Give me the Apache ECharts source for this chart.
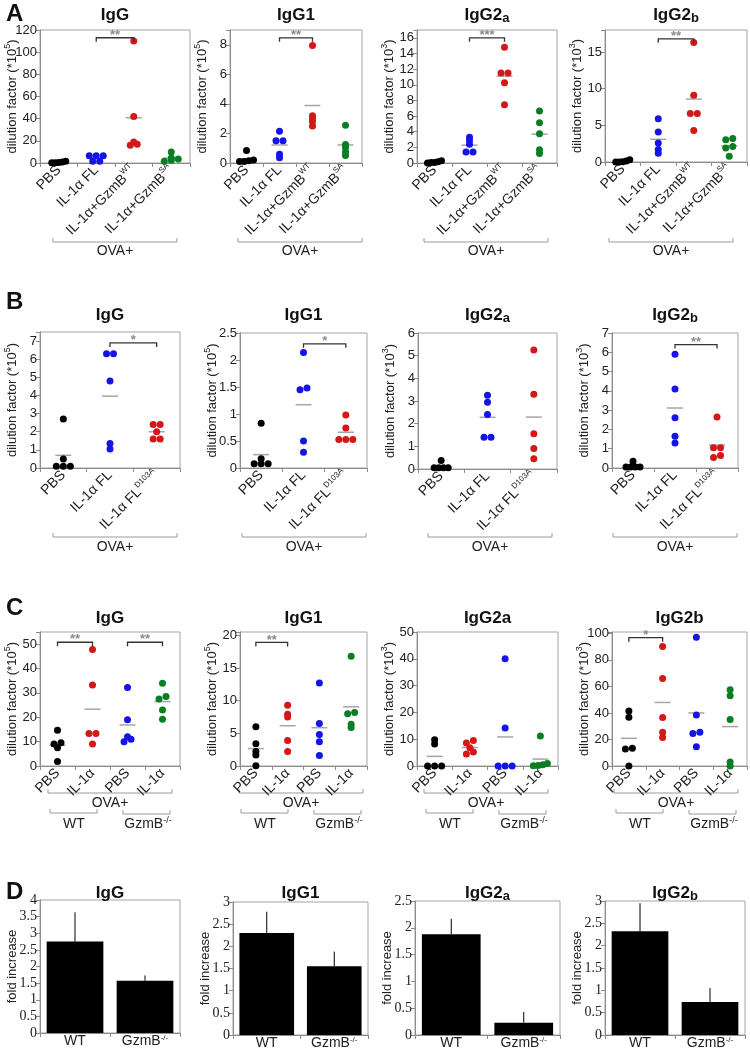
<!DOCTYPE html>
<html><head><meta charset="utf-8">
<script src="https://cdn.jsdelivr.net/npm/echarts@6/dist/echarts.min.js"></script>
<style>html,body{margin:0;padding:0;background:#fff}#c{width:750px;height:1049px}</style>
</head><body><div id="c"></div>
<script>
// ================= DATA =================
const titlesSub = ['IgG', 'IgG1', 'IgG2_a', 'IgG2_b'];
const titlesC = ['IgG', 'IgG1', 'IgG2a', 'IgG2b'];
const catsA = ['PBS', 'IL-1α FL', 'IL-1α+GzmB^WT', 'IL-1α+GzmB^SA'];
const catsB = ['PBS', 'IL-1α FL', 'IL-1α FL^D103A'];
const catsC = ['PBS', 'IL-1α', 'PBS', 'IL-1α'];
const catsD = ['WT', 'GzmB^-/-'];
const colorsA = ['#000000', '#1414e6', '#d41717', '#0b7d22'];
const colorsB = ['#000000', '#1414e6', '#d41717'];
const colorsC = ['#000000', '#d41717', '#1414e6', '#0b7d22'];

// Panel A (groups: PBS, IL-1α FL, IL-1α+GzmB WT, IL-1α+GzmB SA)
const A_IgG   = [[1.5, 1, 0.5, 0.3, 0.2], [6.5, 6.5, 6.5, 1.5, 1.5], [110, 42, 19, 17, 16], [10, 4.5, 3.5, 2.5, 1.5]];
const A_IgG1  = [[0.85, 0.2, 0.15, 0.1, 0.1], [2.15, 1.5, 1.5, 0.6, 0.35], [7.95, 3.2, 3.0, 2.8, 2.5], [2.55, 1.25, 1.05, 0.75, 0.5]];
const A_IgG2a = [[0.3, 0.15, 0.05, 0.05, 0], [3.3, 2.9, 2.4, 1.4, 1.4], [14.8, 11.5, 11.5, 10.25, 7.45], [6.64, 5.15, 3.74, 1.7, 1.2]];
const A_IgG2b = [[0.3, 0.15, 0.05, 0, 0], [5.9, 4.1, 2.6, 1.7, 1.2], [16.3, 9.1, 6.6, 6.6, 4.3], [3.2, 3.05, 2.1, 1.9, 0.8]];
// significance: [from group, to group, y value, label]
const sigA_IgG = [[1, 2, 113, '**']];
const sigA_IgG1 = [[1, 2, 8.47, '**']];
const sigA_IgG2a = [[1, 2, 16, '***']];
const sigA_IgG2b = [[1, 2, 16.8, '**']];

// Panel B (groups: PBS, IL-1α FL, IL-1α FL D103A)
const B_IgG   = [[2.7, 0.5, 0.1, 0.1, 0.1], [6.3, 6.3, 4.8, 1.35, 1.05], [2.4, 2.4, 2.0, 1.6, 1.6]];
const B_IgG1  = [[0.83, 0.17, 0.08, 0.08, 0.08], [2.14, 1.48, 1.45, 0.5, 0.29], [0.98, 0.74, 0.53, 0.53, 0.53]];
const B_IgG2a = [[0.38, 0.05, 0.05, 0.05, 0.05], [3.25, 2.95, 2.4, 1.4, 1.4], [5.25, 3.3, 1.55, 0.9, 0.45]];
const B_IgG2b = [[0.35, 0.05, 0.05, 0.05, 0.05], [5.9, 4.1, 2.6, 1.65, 1.3], [2.65, 1.05, 1.05, 0.65, 0.55]];
const sigB_IgG = [[1, 2, 6.9, '*']];
const sigB_IgG1 = [[1, 2, 2.3, '*']];
const sigB_IgG2b = [[1, 2, 6.4, '**']];

// Panel C (groups: WT PBS, WT IL-1α, GzmB-/- PBS, GzmB-/- IL-1α)
const C_IgG   = [[14.7, 9.5, 9.0, 7.5, 1.8], [47.8, 33.2, 13.3, 13.3, 9], [32.2, 19, 12, 11, 10], [34, 28.5, 27.5, 23, 19.2]];
const C_IgG1  = [[6, 3.4, 2.2, 1.7, 0.05], [9.3, 7.9, 7.5, 3.9, 2.2], [12.7, 6.5, 4.8, 3.7, 1.6], [16.8, 8.2, 8.0, 6.4, 5.9]];
const C_IgG2a = [[9.8, 8.2, 0, 0, 0], [9.5, 8.6, 6.8, 5.2, 4.5], [40, 14.2, 0, 0, 0], [11.2, 0.9, 0.5, 0.2, 0.1]];
const C_IgG2b = [[41.5, 36.8, 13.3, 12.8, 0], [90, 66, 36.5, 25.5, 21.5], [97, 38.5, 25.5, 24.5, 14.5], [57.5, 53, 35, 3, 0]];
const sigC_IgG = [[0, 1, 50.8, '**'], [2, 3, 50.8, '**']];
const sigC_IgG1 = [[0, 1, 18.9, '**']];
const sigC_IgG2b = [[0, 1, 96.7, '*']];

// Panel D (fold increase, WT vs GzmB-/-)
const D_IgG = [2.75, 1.57],   D_IgG_err = [3.63, 1.73];
const D_IgG1 = [2.3, 1.55],   D_IgG1_err = [2.78, 1.88];
const D_IgG2a = [1.88, 0.23], D_IgG2a_err = [2.17, 0.43];
const D_IgG2b = [2.32, 0.74], D_IgG2b_err = [2.95, 1.05];

// ================= LAYOUT / STYLE =================
const FONT = '"Liberation Sans", Arial, sans-serif';
const SERIF = '"Liberation Serif", "Times New Roman", serif';
const TXT = '#222';

const layout = [
  {l: 40, t: 30, w: 150, h: 133}, {l: 230, t: 30, w: 132, h: 133}, {l: 417, t: 30, w: 140, h: 133}, {l: 605, t: 30, w: 142, h: 132},
  {l: 40, t: 332, w: 140, h: 136}, {l: 240, t: 333, w: 127, h: 135}, {l: 418, t: 333, w: 139, h: 136}, {l: 612, t: 333, w: 126, h: 135},
  {l: 40, t: 632, w: 140, h: 134}, {l: 240, t: 632, w: 127, h: 134}, {l: 417, t: 632, w: 141, h: 134}, {l: 612, t: 632, w: 135, h: 134},
  {l: 40, t: 900, w: 140, h: 133}, {l: 233, t: 902, w: 135, h: 133}, {l: 415, t: 901, w: 145, h: 134}, {l: 605, t: 901, w: 140, h: 134}
];

const plots = [
  {kind: 'dot', data: A_IgG, cats: catsA, colors: colorsA, max: 120, step: 20, exp: 5, sig: sigA_IgG},
  {kind: 'dot', data: A_IgG1, cats: catsA, colors: colorsA, max: 9, step: 2, exp: 5, sig: sigA_IgG1},
  {kind: 'dot', data: A_IgG2a, cats: catsA, colors: colorsA, max: 17, step: 2, exp: 3, sig: sigA_IgG2a},
  {kind: 'dot', data: A_IgG2b, cats: catsA, colors: colorsA, max: 18, step: 5, exp: 3, sig: sigA_IgG2b},
  {kind: 'dot', data: B_IgG, cats: catsB, colors: colorsB, max: 7.5, step: 1, exp: 5, sig: sigB_IgG},
  {kind: 'dot', data: B_IgG1, cats: catsB, colors: colorsB, max: 2.5, step: 0.5, exp: 5, sig: sigB_IgG1},
  {kind: 'dot', data: B_IgG2a, cats: catsB, colors: colorsB, max: 6, step: 1, exp: 3, sig: null},
  {kind: 'dot', data: B_IgG2b, cats: catsB, colors: colorsB, max: 7, step: 1, exp: 3, sig: sigB_IgG2b},
  {kind: 'dot', data: C_IgG, cats: catsC, colors: colorsC, max: 55, step: 10, exp: 5, sig: sigC_IgG},
  {kind: 'dot', data: C_IgG1, cats: catsC, colors: colorsC, max: 20.5, step: 5, exp: 5, sig: sigC_IgG1},
  {kind: 'dot', data: C_IgG2a, cats: catsC, colors: colorsC, max: 50, step: 10, exp: 3, sig: null},
  {kind: 'dot', data: C_IgG2b, cats: catsC, colors: colorsC, max: 101, step: 20, exp: 3, sig: sigC_IgG2b},
  {kind: 'bar', vals: D_IgG, err: D_IgG_err, cats: catsD, max: 4, step: 0.5},
  {kind: 'bar', vals: D_IgG1, err: D_IgG1_err, cats: catsD, max: 3, step: 0.5},
  {kind: 'bar', vals: D_IgG2a, err: D_IgG2a_err, cats: catsD, max: 2.5, step: 0.5},
  {kind: 'bar', vals: D_IgG2b, err: D_IgG2b_err, cats: catsD, max: 3, step: 0.5}
];

const mean = a => a.reduce((s, v) => s + v, 0) / a.length;
const supFmt = v => { const k = v.indexOf('^'); return k < 0 ? `{n|${v}}` : `{n|${v.slice(0, k)}}{s|${v.slice(k + 1)}}`; };

// spread overlapping dots horizontally (beeswarm-like)
function jitter(vals, pxU, catPx) {
  const idx = vals.map((v, i) => i).sort((a, b) => vals[a] - vals[b]);
  const off = new Array(vals.length).fill(0);
  let cl = [];
  const flush = () => {
    const k = cl.length; const sp = k > 1 ? Math.min(7, 14 / (k - 1)) : 0;
    cl.forEach((i, j) => { off[i] = (j - (k - 1) / 2) * sp / catPx; }); cl = [];
  };
  idx.forEach(i => { if (cl.length && (vals[i] - vals[cl[0]]) * pxU > 2.5) flush(); cl.push(i); });
  flush();
  return off;
}

const grid = [], xAxis = [], yAxis = [], series = [], graphic = [];

plots.forEach((p, i) => {
  const L = layout[i];
  const isBar = p.kind === 'bar';
  grid.push({left: L.l, top: L.t, width: L.w, height: L.h, show: true, borderColor: '#a5a5a5', borderWidth: 1,
    backgroundColor: 'transparent', containLabel: false, outerBoundsMode: 'none'});
  xAxis.push({type: 'category', gridIndex: i, data: p.cats,
    axisLine: {onZero: false, lineStyle: {color: '#8c8c8c', width: 1}},
    axisTick: {show: true, length: 4, lineStyle: {color: '#8c8c8c'}},
    axisLabel: {interval: 0, rotate: isBar ? 0 : 45, margin: isBar ? 1 : 5, color: TXT, formatter: supFmt,
      rich: {n: {fontSize: 14, fontFamily: FONT, color: TXT, lineHeight: isBar ? 14 : 18},
             s: {fontSize: 8, fontFamily: FONT, color: TXT, verticalAlign: 'top', lineHeight: 9}}},
    splitLine: {show: false}});
  xAxis.push({type: 'value', gridIndex: i, min: -0.5, max: p.cats.length - 0.5, show: false,
    axisLine: {onZero: false}});
  const step = p.step;
  yAxis.push({type: 'value', gridIndex: i, min: 0, max: p.max, interval: step,
    name: isBar ? 'fold increase' : `{n|dilution factor (*10}{s|${p.exp}}{n|)}`,
    nameLocation: 'middle', nameRotate: 90, nameGap: isBar ? 21 : 19, nameMoveOverlap: false,
    nameTextStyle: {fontSize: 13, fontFamily: FONT, color: TXT,
      rich: {n: {fontSize: 13, fontFamily: FONT, color: TXT, lineHeight: 18},
             s: {fontSize: 9, fontFamily: FONT, color: TXT, verticalAlign: 'top', lineHeight: 9}}},
    axisLine: {show: true, onZero: false, lineStyle: {color: '#8c8c8c', width: 1}},
    axisTick: {show: true, length: 4, lineStyle: {color: '#8c8c8c'}},
    splitLine: {show: false},
    axisLabel: {margin: 3, fontSize: isBar ? 14 : 13, fontFamily: isBar ? SERIF : FONT, color: TXT,
      formatter: v => { const r = v / step; return Math.abs(r - Math.round(r)) < 1e-6 ? String(+v.toFixed(2)) : ''; }}});

  if (!isBar) {
    const pxU = L.h / p.max, catPx = L.w / p.cats.length;
    series.push({type: 'scatter', xAxisIndex: 2 * i + 1, yAxisIndex: i, symbol: 'rect', symbolSize: [16, 1.5],
      itemStyle: {color: '#8f8f8f'}, data: p.data.map((vals, g) => [g, mean(vals)]), z: 2, animation: false, silent: true, clip: false});
    p.data.forEach((vals, g) => {
      const off = jitter(vals, pxU, catPx);
      series.push({type: 'scatter', xAxisIndex: 2 * i + 1, yAxisIndex: i, symbolSize: 7, clip: false, z: 3,
        itemStyle: {color: p.colors[g], opacity: 1}, data: vals.map((v, k) => [g + off[k], v]), animation: false, silent: true});
    });
    if (p.sig) {
      const sig = p.sig;
      series.push({type: 'custom', xAxisIndex: 2 * i + 1, yAxisIndex: i, clip: false, z: 4, animation: false, silent: true,
        data: sig.map(s => [s[0], s[1], s[2]]),
        renderItem: (params, api) => {
          const s = sig[params.dataIndex];
          const a = api.coord([api.value(0), api.value(2)]), b = api.coord([api.value(1), api.value(2)]);
          return {type: 'group', children: [
            {type: 'polyline', shape: {points: [[a[0], a[1] + 4], [a[0], a[1]], [b[0], b[1]], [b[0], b[1] + 4]]},
              style: {stroke: '#333', lineWidth: 1.3, fill: null}},
            {type: 'text', x: (a[0] + b[0]) / 2, y: a[1] + 4,
              style: {text: s[3], fill: '#8a8a8a', font: 'bold 13px ' + FONT, align: 'center', verticalAlign: 'bottom',
                textAlign: 'center', textVerticalAlign: 'bottom'}}
          ]};
        }});
    }
  } else {
    series.push({type: 'bar', xAxisIndex: 2 * i, yAxisIndex: i, data: p.vals, barWidth: '81%',
      itemStyle: {color: '#000'}, animation: false, silent: true});
    series.push({type: 'custom', xAxisIndex: 2 * i, yAxisIndex: i, clip: false, z: 4, animation: false, silent: true,
      data: p.vals.map((v, k) => [k, v, p.err[k]]),
      renderItem: (params, api) => {
        const a = api.coord([api.value(0), api.value(1)]), b = api.coord([api.value(0), api.value(2)]);
        return {type: 'line', shape: {x1: a[0], y1: a[1], x2: b[0], y2: b[1]}, style: {stroke: '#000', lineWidth: 1}};
      }});
  }

  // subplot title
  const row = Math.floor(i / 4), col = i % 4;
  const tY = [15, 315, 618, 893][row];
  const tName = row === 2 ? titlesC[col] : titlesSub[col];
  const tk = tName.indexOf('_');
  const tText = tk < 0 ? `{t|${tName}}` : `{t|${tName.slice(0, tk)}}{u|${tName.slice(tk + 1)}}`;
  graphic.push({type: 'text', x: L.l + L.w / 2, y: tY, silent: true,
    style: {text: tText, align: 'center', verticalAlign: 'middle', textAlign: 'center', textVerticalAlign: 'middle', fill: '#111',
      rich: {t: {fontSize: 17, fontWeight: 'bold', fontFamily: FONT, fill: '#111', color: '#111', lineHeight: 20},
             u: {fontSize: 13, fontWeight: 'bold', fontFamily: FONT, fill: '#111', color: '#111', lineHeight: 12, verticalAlign: 'bottom'}}}});
});

// panel letters
[['A', 2], ['B', 290], ['C', 596], ['D', 880]].forEach(([t, y]) => {
  graphic.push({type: 'text', x: 6, y: y, silent: true,
    style: {text: t, font: 'bold 24px ' + FONT, fill: '#111', align: 'left', verticalAlign: 'top', textAlign: 'left', textVerticalAlign: 'top'}});
});

// group brackets under the axes
function bracket(x1, x2, y) {
  graphic.push({type: 'polyline', silent: true, shape: {points: [[x1, y - 4], [x1, y], [x2, y], [x2, y - 4]]},
    style: {stroke: '#9a9a9a', lineWidth: 1, fill: null}});
}
function label(text, x, y) {
  graphic.push({type: 'text', x: x, y: y, silent: true,
    style: {text: text, align: 'center', verticalAlign: 'middle', textAlign: 'center', textVerticalAlign: 'middle', fill: TXT,
      rich: {n: {fontSize: 14, fontFamily: FONT, fill: TXT, color: TXT, lineHeight: 16},
             s: {fontSize: 9, fontFamily: FONT, fill: TXT, color: TXT, lineHeight: 9, verticalAlign: 'top'}}}});
}
[115, 300, 486, 671].forEach(cx => { bracket(cx - 62, cx + 62, 242); label('{n|OVA+}', cx, 251); });
[115, 304, 490, 675].forEach(cx => { bracket(cx - 62, cx + 62, 537); label('{n|OVA+}', cx, 547); });
[110, 301, 486, 676].forEach(cx => {
  bracket(cx - 62, cx + 62, 793); label('{n|OVA+}', cx, 803);
  bracket(cx - 60, cx - 13, 813); label('{n|WT}', cx - 36, 824);
  bracket(cx + 13, cx + 60, 814); label('{n|GzmB}{s|-/-}', cx + 38, 824);
});

const chart = echarts.init(document.getElementById('c'), null, {renderer: 'canvas'});
chart.setOption({animation: false, backgroundColor: '#fff', grid, xAxis, yAxis, series, graphic});
</script>
</body></html>
